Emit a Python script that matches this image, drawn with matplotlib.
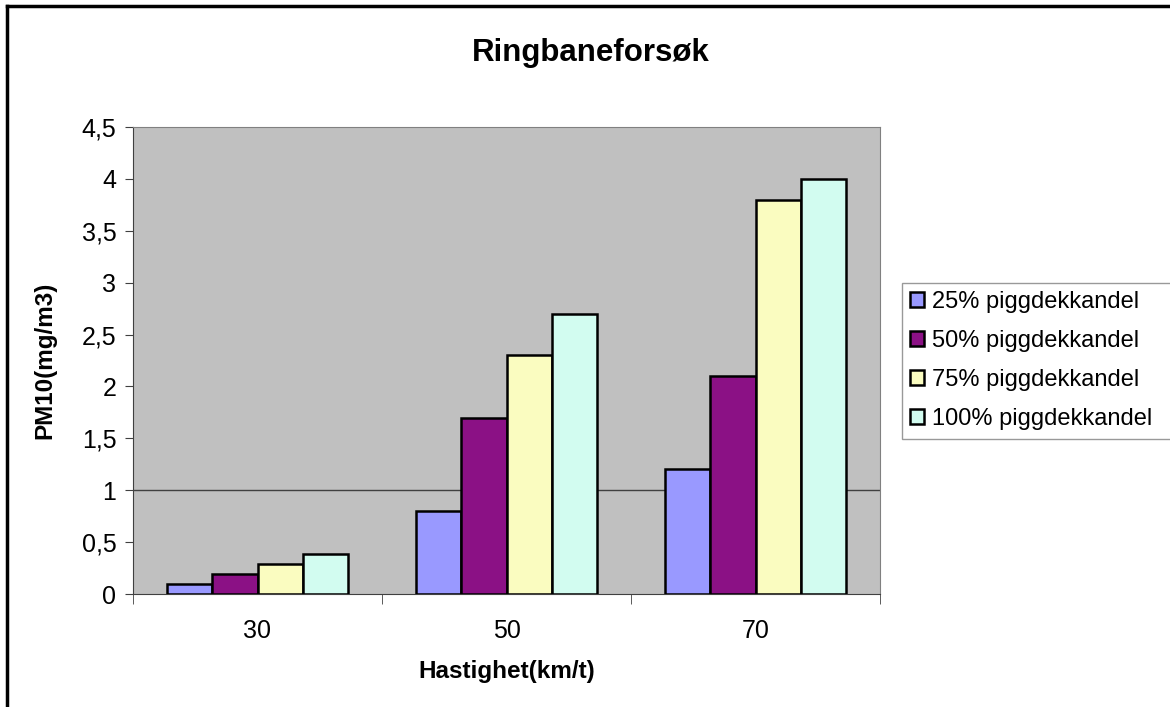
import numpy as np
import matplotlib.pyplot as plt
from matplotlib.lines import Line2D

plt.rcParams['font.family'] = ['Liberation Sans', 'DejaVu Sans']

# data
speeds = ["30", "50", "70"]
series_names = ["25% piggdekkandel", "50% piggdekkandel",
                "75% piggdekkandel", "100% piggdekkandel"]
pm_25 = [0.1, 0.8, 1.2]
pm_50 = [0.19, 1.7, 2.1]
pm_75 = [0.29, 2.3, 3.8]
pm_100 = [0.39, 2.7, 4.0]
yticks = [0, 0.5, 1, 1.5, 2, 2.5, 3, 3.5, 4, 4.5]
ytick_labels = ["0", "0,5", "1", "1,5", "2", "2,5", "3", "3,5", "4", "4,5"]

colors = ["#9999FF", "#8B1185", "#FAFCC0", "#D2FCF0"]
values = [pm_25, pm_50, pm_75, pm_100]

W, H = 1170, 707
fig = plt.figure(figsize=(W / 100, H / 100), dpi=100)
ax = fig.add_axes([133/W, 1 - 594/H, (880-133)/W, (594-127)/H])
ax.set_facecolor("#C0C0C0")

x = np.arange(len(speeds))
w = 1 / 5.5
for i, (vals, name, c) in enumerate(zip(values, series_names, colors)):
    ax.bar(x + (i - 1.5) * w, vals, w, color=c, edgecolor="black",
           linewidth=1.8, label=name, zorder=3)

ax.axhline(1, color="#404040", linewidth=1, zorder=2)

ax.set_xlim(-0.5, 2.5)
ax.set_ylim(0, 4.5)
ax.set_yticks(yticks)
ax.set_yticklabels(ytick_labels, fontsize=18)
ax.set_xticks(x)
ax.set_xticklabels(speeds, fontsize=18)
ax.tick_params(axis="x", length=0, pad=18)
ax.set_xticks([-0.5, 0.5, 1.5, 2.5], minor=True)
ax.tick_params(axis="x", which="minor", length=7, color="#404040")
ax.tick_params(axis="y", length=6, color="#404040", pad=6)

for s in ["top", "right"]:
    ax.spines[s].set_color("#808080")
for s in ["left", "bottom"]:
    ax.spines[s].set_color("#404040")

ax.set_xlabel("Hastighet(km/t)", fontsize=17.5, fontweight="bold", labelpad=12)
ax.set_ylabel("PM10(mg/m3)", fontsize=17.5, fontweight="bold", labelpad=18)
fig.text(591/W, 1 - 53/H, "Ringbaneforsøk",
         ha="center", va="center", fontsize=22.5, fontweight="bold")

leg = fig.legend(loc="upper left", mode="expand",
                 bbox_to_anchor=(902/W, 1 - 436/H, 290/W, 153/H),
                 fontsize=17, frameon=True, fancybox=False, handlelength=0.6,
                 handleheight=0.6, handletextpad=0.3, borderpad=0.35,
                 labelspacing=0.72, borderaxespad=0)
leg.get_frame().set_edgecolor("#808080")
leg.get_frame().set_linewidth(1)

# outer frame: only top and left edges are visible in the picture
fig.add_artist(Line2D([7/W, 7/W], [0, 1 - 6/H], transform=fig.transFigure,
                      color="black", linewidth=2.5))
fig.add_artist(Line2D([7/W, 1], [1 - 6/H, 1 - 6/H], transform=fig.transFigure,
                      color="black", linewidth=2.5))

fig.savefig("out.png", dpi=100)
